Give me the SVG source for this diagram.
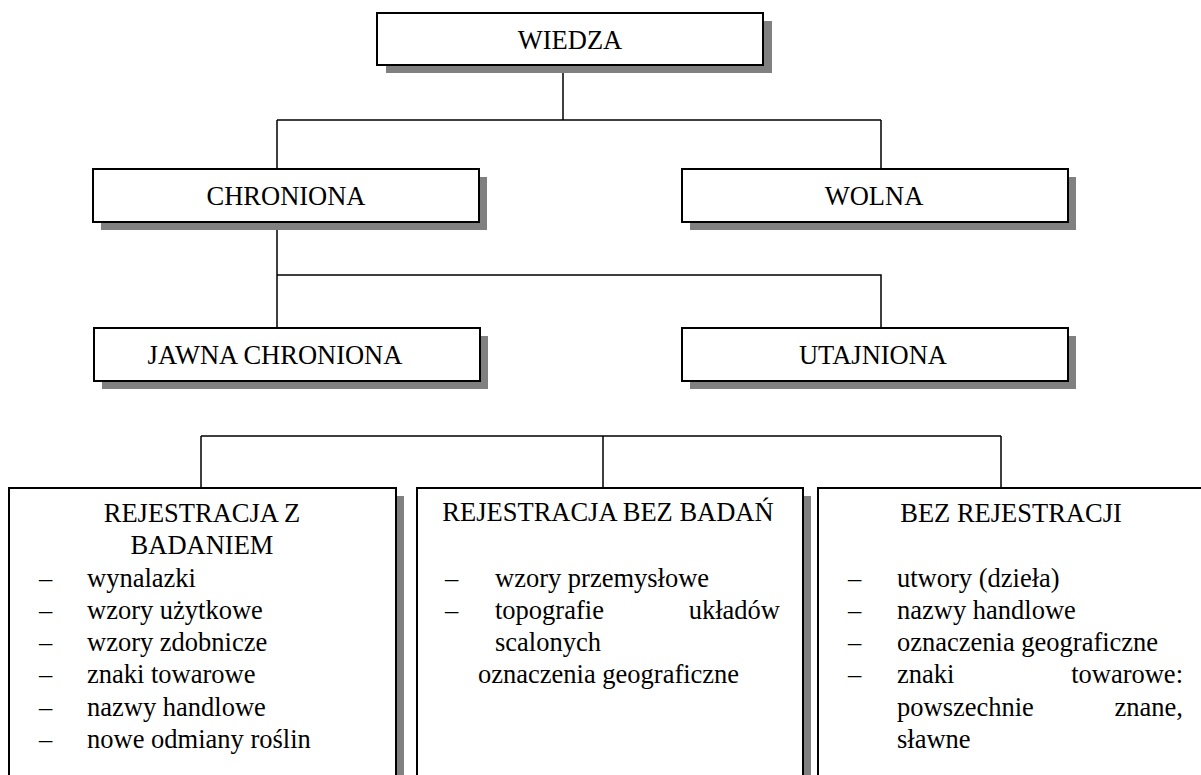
<svg xmlns="http://www.w3.org/2000/svg" width="1201" height="775" viewBox="0 0 1201 775">
  <style>
    .box { fill: #ffffff; stroke: #000000; stroke-width: 2; }
    .shadow { fill: #808080; }
    .wire { fill: none; stroke: #000000; stroke-width: 1.5; }
    text { font-family: "Liberation Serif", "Times New Roman", serif; font-size: 26.5px; fill: #000000; }
    .c { text-anchor: middle; }
  </style>
  <rect width="1201" height="775" fill="#ffffff"/>

  <!-- connectors -->
  <g id="connectors">
    <path class="wire" d="M563 65 V120 M277 120 H881 M277 120 V169 M881 120 V169"/>
    <path class="wire" d="M277 222 V328 M277 275 H881 V328"/>
    <path class="wire" d="M201 436 H1001 M201 436 V488 M603 436 V488 M1001 436 V488"/>
  </g>

  <g id="wiedza">
    <rect class="shadow" x="386" y="21" width="386" height="52"/>
    <rect class="box" x="377" y="13" width="386" height="52"/>
    <text class="c" x="570" y="49">WIEDZA</text>
  </g>

  <g id="chroniona">
    <rect class="shadow" x="101" y="177" width="386" height="53"/>
    <rect class="box" x="93" y="169" width="386" height="53"/>
    <text class="c" x="286" y="205">CHRONIONA</text>
  </g>

  <g id="wolna">
    <rect class="shadow" x="690" y="177" width="386" height="53"/>
    <rect class="box" x="682" y="169" width="386" height="53"/>
    <text class="c" x="874" y="205">WOLNA</text>
  </g>

  <g id="jawna-chroniona">
    <rect class="shadow" x="102" y="336" width="386" height="53"/>
    <rect class="box" x="94" y="328" width="386" height="53"/>
    <text class="c" x="275" y="364">JAWNA CHRONIONA</text>
  </g>

  <g id="utajniona">
    <rect class="shadow" x="690" y="336" width="386" height="53"/>
    <rect class="box" x="682" y="328" width="386" height="53"/>
    <text class="c" x="873" y="364">UTAJNIONA</text>
  </g>

  <g id="rejestracja-z-badaniem">
    <rect class="shadow" x="17" y="496" width="387" height="300"/>
    <rect class="box" x="9" y="488" width="387" height="300"/>
    <text class="c" x="202" y="522">REJESTRACJA Z</text>
    <text class="c" x="202" y="554">BADANIEM</text>
    <text x="39" y="587">–</text><text x="87" y="587">wynalazki</text>
    <text x="39" y="619">–</text><text x="87" y="619">wzory użytkowe</text>
    <text x="39" y="651">–</text><text x="87" y="651">wzory zdobnicze</text>
    <text x="39" y="683">–</text><text x="87" y="683">znaki towarowe</text>
    <text x="39" y="716">–</text><text x="87" y="716">nazwy handlowe</text>
    <text x="39" y="748">–</text><text x="87" y="748">nowe odmiany roślin</text>
  </g>

  <g id="rejestracja-bez-badan">
    <rect class="shadow" x="425" y="496" width="386" height="300"/>
    <rect class="box" x="417" y="488" width="386" height="300"/>
    <text class="c" x="608" y="521">REJESTRACJA BEZ BADAŃ</text>
    <text x="445" y="587">–</text><text x="495" y="587">wzory przemysłowe</text>
    <text x="445" y="619">–</text><text x="495" y="619">topografie</text>
    <text x="780" y="619" text-anchor="end">układów</text>
    <text x="495" y="651">scalonych</text>
    <text x="478" y="683">oznaczenia geograficzne</text>
  </g>

  <g id="bez-rejestracji">
    <rect class="shadow" x="826" y="496" width="386" height="300"/>
    <rect class="box" x="818" y="488" width="386" height="300"/>
    <text class="c" x="1011" y="522">BEZ REJESTRACJI</text>
    <text x="848" y="587">–</text><text x="897" y="587">utwory (dzieła)</text>
    <text x="848" y="619">–</text><text x="897" y="619">nazwy handlowe</text>
    <text x="848" y="651">–</text><text x="897" y="651">oznaczenia geograficzne</text>
    <text x="848" y="683">–</text><text x="897" y="683">znaki</text>
    <text x="1183" y="683" text-anchor="end">towarowe:</text>
    <text x="897" y="716">powszechnie</text>
    <text x="1183" y="716" text-anchor="end">znane,</text>
    <text x="897" y="748">sławne</text>
  </g>
</svg>
